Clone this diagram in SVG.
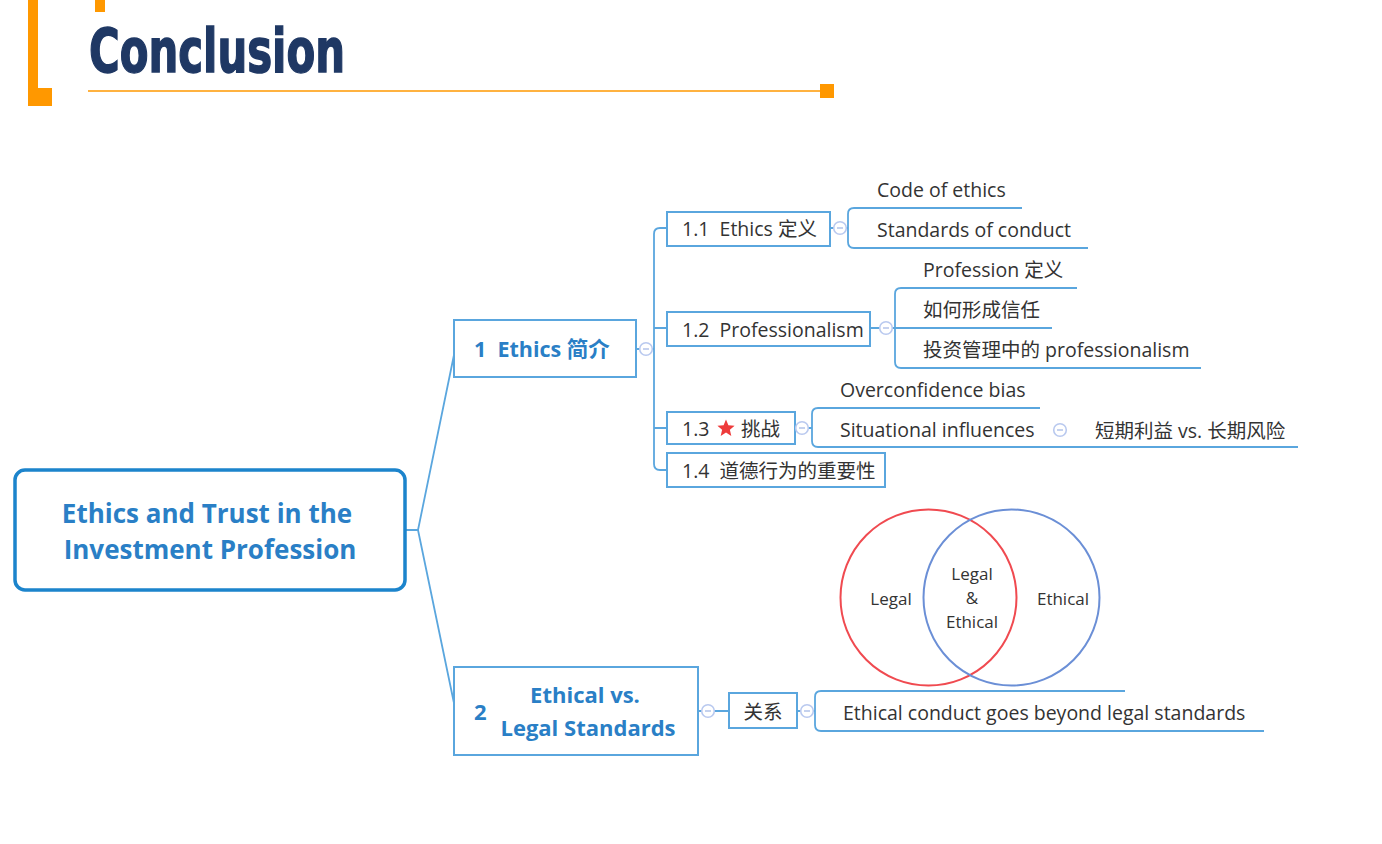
<svg xmlns="http://www.w3.org/2000/svg" width="1382" height="844" viewBox="0 0 1382 844">
  <style>
    .accent { fill: #ff9800; }
    .title { font-family: "Liberation Sans Narrow", "DejaVu Sans Condensed", "Liberation Sans", sans-serif; font-weight: bold; font-size: 60px; fill: #1f3864; stroke: #1f3864; stroke-width: 1.4; }
    .box { fill: #ffffff; stroke: #5aa6de; stroke-width: 2; }
    .root { fill: #ffffff; stroke: #1c84cc; stroke-width: 3.5; }
    .link { fill: none; stroke: #5aa6de; stroke-width: 1.8; }
    text { white-space: pre; }
    .t { font-family: "Open Sans", "Noto Sans", "Noto Sans CJK SC", sans-serif; font-size: 19.5px; fill: #333333; }
    .tb { font-family: "Open Sans", "Noto Sans", "Noto Sans CJK SC", sans-serif; font-weight: bold; fill: #2a7fc6; }
    .venn { font-family: "Open Sans", "Noto Sans", sans-serif; font-size: 17px; fill: #333333; text-anchor: middle; }
  </style>
  <defs>
    <!-- collapse button -->
    <g id="minus">
      <circle r="6.3" fill="#ffffff" stroke="#b9c9ef" stroke-width="1.6"/>
      <line x1="-3" y1="0" x2="3" y2="0" stroke="#9fb4e4" stroke-width="1.2"/>
    </g>
  </defs>

  <!-- header -->
  <g id="header">
    <rect class="accent" x="28" y="0" width="10" height="106"/>
    <rect class="accent" x="28" y="88" width="24" height="18"/>
    <rect class="accent" x="95" y="0" width="10" height="12"/>
    <text class="title" x="89" y="72" textLength="256" lengthAdjust="spacingAndGlyphs">Conclusion</text>
    <line x1="88" y1="91" x2="822" y2="91" stroke="#ff9800" stroke-width="1.5"/>
    <rect class="accent" x="820" y="84" width="14" height="14"/>
  </g>

  <!-- connectors -->
  <g id="connectors">
    <path class="link" d="M405 530 H418 M418 530 L455 350 M418 530 L455 708"/>
    <!-- 1 -> 1.x -->
    <path class="link" d="M636 349 H654 M667 228 H660 Q654 228 654 234 V464 Q654 470 660 470 H667 M654 328 H667 M654 428 H667"/>
    <!-- 1.1 -> children -->
    <path class="link" d="M830 228 H848 M1022 208 H854 Q848 208 848 214 V242 Q848 248 854 248 H1088"/>
    <!-- 1.2 -> children -->
    <path class="link" d="M870 328 H895 M1077 288 H901 Q895 288 895 294 V362 Q895 368 901 368 H1201 M895 328 H1052"/>
    <!-- 1.3 -> children -->
    <path class="link" d="M795 428 H812 M1040 408 H818 Q812 408 812 414 V441 Q812 447 818 447 H1298"/>
    <!-- 2 -> relation -> children -->
    <path class="link" d="M698 711 H729 M797 711 H815 M1125 691 H821 Q815 691 815 697 V725 Q815 731 821 731 H1264"/>
  </g>

  <!-- root -->
  <g id="root">
    <rect class="root" x="15" y="470" width="390" height="120" rx="10"/>
    <text class="tb" x="207" y="523" font-size="26" text-anchor="middle">Ethics and Trust in the</text>
    <text class="tb" x="210" y="559" font-size="26" text-anchor="middle">Investment Profession</text>
  </g>

  <!-- 1 Ethics intro -->
  <g id="n1">
    <rect class="box" x="454" y="320" width="182" height="57"/>
    <text class="tb" x="474" y="357" font-size="21.5">1  Ethics 简介</text>
    <use href="#minus" x="646" y="349"/>
  </g>

  <g id="n1-1">
    <rect class="box" x="667" y="212" width="163" height="34"/>
    <text class="t" x="682" y="236">1.1  Ethics 定义</text>
    <use href="#minus" x="840" y="228"/>
  </g>
  <g id="n1-1-a"><text class="t" x="877" y="197">Code of ethics</text></g>
  <g id="n1-1-b"><text class="t" x="877" y="237">Standards of conduct</text></g>

  <g id="n1-2">
    <rect class="box" x="667" y="312" width="203" height="34"/>
    <text class="t" x="682" y="337">1.2  Professionalism</text>
    <use href="#minus" x="886" y="328"/>
  </g>
  <g id="n1-2-a"><text class="t" x="923" y="277">Profession 定义</text></g>
  <g id="n1-2-b"><text class="t" x="923" y="317">如何形成信任</text></g>
  <g id="n1-2-c"><text class="t" x="923" y="357">投资管理中的 professionalism</text></g>

  <g id="n1-3">
    <rect class="box" x="667" y="412" width="128" height="32"/>
    <text class="t" x="682" y="436">1.3</text>
    <polygon fill="#ee3b3b" points="726,419.5 728.4,425.3 734.6,425.8 729.9,429.8 731.3,435.9 726,432.6 720.7,435.9 722.1,429.8 717.4,425.8 723.6,425.3"/>
    <text class="t" x="741" y="436">挑战</text>
    <use href="#minus" x="802" y="428"/>
  </g>
  <g id="n1-3-a"><text class="t" x="840" y="397">Overconfidence bias</text></g>
  <g id="n1-3-b">
    <text class="t" x="840" y="437">Situational influences</text>
    <use href="#minus" x="1060" y="430"/>
  </g>
  <g id="n1-3-b-1"><text class="t" x="1095" y="438">短期利益 vs. 长期风险</text></g>

  <g id="n1-4">
    <rect class="box" x="667" y="453" width="218" height="34"/>
    <text class="t" x="682" y="478">1.4  道德行为的重要性</text>
  </g>

  <!-- 2 Ethical vs Legal -->
  <g id="n2">
    <rect class="box" x="454" y="667" width="244" height="88"/>
    <text class="tb" x="474" y="720" font-size="22">2</text>
    <text class="tb" x="585" y="703" font-size="22" text-anchor="middle">Ethical vs.</text>
    <text class="tb" x="588" y="736" font-size="22" text-anchor="middle">Legal Standards</text>
    <use href="#minus" x="708" y="711"/>
  </g>
  <g id="n2-rel">
    <rect class="box" x="729" y="693" width="68" height="35"/>
    <text class="t" x="763" y="719" text-anchor="middle">关系</text>
    <use href="#minus" x="807" y="711"/>
  </g>
  <g id="n2-venn">
    <circle cx="928.5" cy="597.5" r="88" fill="none" stroke="#f04a50" stroke-width="2"/>
    <circle cx="1011.5" cy="597.5" r="88" fill="none" stroke="#6b8fd6" stroke-width="2"/>
    <text class="venn" x="891" y="605">Legal</text>
    <text class="venn" x="972" y="580">Legal</text>
    <text class="venn" x="972" y="604">&amp;</text>
    <text class="venn" x="972" y="628">Ethical</text>
    <text class="venn" x="1063" y="605">Ethical</text>
  </g>
  <g id="n2-rel-b"><text class="t" x="843" y="720">Ethical conduct goes beyond legal standards</text></g>
</svg>
